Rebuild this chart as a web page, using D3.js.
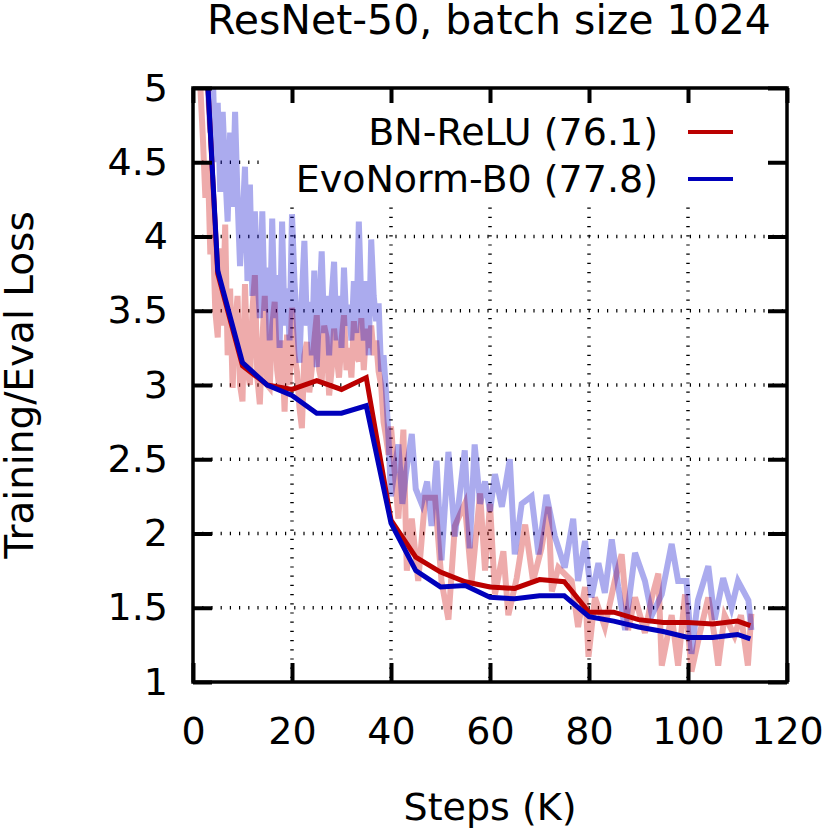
<!DOCTYPE html>
<html>
<head>
<meta charset="utf-8">
<script src="https://cdn.jsdelivr.net/npm/d3@7"></script>
<style>
  body { margin: 0; background: #fff; }
  svg { font-family: "DejaVu Sans", sans-serif; }
</style>
</head>
<body>
<svg width="830" height="830"></svg>
<script>
// eval loss, every 5K steps
var evalSteps = [0, 5, 10, 15, 20, 25, 30, 35, 40, 45, 50, 55, 60, 65, 70, 75, 80, 85, 90, 95, 100, 105, 110, 112.6];
var bnEval  = [6.91, 3.75, 3.13, 3.0, 2.97, 3.03, 2.97, 3.05, 2.09, 1.84, 1.74, 1.675, 1.64, 1.63, 1.69, 1.675, 1.47, 1.47, 1.42, 1.40, 1.40, 1.39, 1.41, 1.38];
var evoEval = [6.91, 3.77, 3.15, 3.0, 2.93, 2.81, 2.81, 2.86, 2.07, 1.75, 1.64, 1.65, 1.57, 1.56, 1.58, 1.58, 1.44, 1.41, 1.37, 1.34, 1.30, 1.30, 1.32, 1.29];

// training loss (noisy)
var bnTrainSteps = [0, 0.5, 1, 1.5, 2, 2.5, 3, 3.5, 4, 4.5, 5, 5.5, 6, 6.5, 7, 7.5, 8, 8.5, 9, 9.5,
  10, 10.5, 11, 11.5, 12, 12.5, 13, 13.5, 14, 14.5, 15, 15.5, 16, 16.5, 17, 17.5, 18, 18.5, 19, 19.5,
  20, 20.5, 21, 21.5, 22, 22.5, 23, 23.5, 24, 24.5, 25, 25.5, 26, 26.5, 27, 27.5, 28, 28.5, 29, 29.5,
  30, 30.5, 31, 31.5, 32, 32.5, 33, 33.5, 34, 34.5, 35, 35.5, 36, 36.5, 37, 37.5, 38, 38.5, 39, 39.5, 40,
  41.5, 42.5, 43.2, 44.2, 45.5, 46.9, 48.9, 50.2, 51.6, 52.9, 54.9, 56.3, 58.0, 59.0, 60.0,
  61.0, 62.7, 63.7, 65.4, 67.1, 68.7, 70.4, 71.8, 72.5, 73.8, 76.5, 77.8, 79.2, 79.9, 81.2, 83.2, 85.2, 86.6, 87.9, 89.3,
  91.3, 92.7, 94.0, 94.7, 96.7, 98.0, 99.4, 100.7, 102.4, 104.1, 105.4, 106.1, 107.4, 109.4, 110.7, 112.1, 112.8];
var bnTrain = [6.91, 6.0, 5.3, 5.0, 4.66, 4.26, 4.5, 3.88, 4.06, 3.5, 3.32, 3.92, 3.4, 4.08, 3.2, 3.65, 2.98, 3.4, 3.6, 3.0,
  2.89, 3.68, 3.1, 3.0, 3.5, 3.74, 3.05, 2.87, 3.3, 3.6, 3.0, 2.98, 3.4, 3.56, 3.1, 2.96, 3.3, 2.82, 3.34, 3.0,
  3.52, 3.2, 3.09, 2.85, 2.71, 3.2, 3.29, 2.95, 3.11, 3.3, 3.47, 3.1, 3.02, 3.4, 3.32, 2.93, 3.1, 3.38, 3.2, 3.05,
  3.3, 3.47, 3.1, 3.25, 3.05, 3.43, 3.2, 3.16, 3.45, 3.1, 3.38, 3.25, 3.4, 3.2, 3.3, 3.09, 3.0, 2.75, 2.65, 2.53, 2.72,
  2.1, 2.7, 1.75, 2.1, 1.68, 2.24, 2.24, 1.68, 1.42, 2.05, 2.2, 1.68, 2.27, 1.75, 2.2,
  1.59, 1.88, 1.45, 1.7, 2.06, 1.68, 1.9, 2.18, 1.61, 1.77, 1.68, 1.37, 1.64, 1.17, 1.57, 1.37, 1.68, 1.86, 1.35, 1.57,
  1.33, 1.57, 1.73, 1.11, 1.45, 1.11, 1.59, 1.07, 1.33, 1.57, 1.3, 1.11, 1.45, 1.31, 1.45, 1.11, 1.46];

var evoTrainSteps = [0, 0.5, 1, 1.5, 2, 2.5, 3, 3.5, 4, 4.5, 5, 5.5, 6, 6.5, 7, 7.5, 8, 8.5, 9, 9.5,
  10, 10.5, 11, 11.5, 12, 12.5, 13, 13.5, 14, 14.5, 15, 15.5, 16, 16.5, 17, 17.5, 18, 18.5, 19, 19.5,
  20, 20.5, 21, 21.5, 22, 22.5, 23, 23.5, 24, 24.5, 25, 25.5, 26, 26.5, 27, 27.5, 28, 28.5, 29, 29.5,
  30, 30.5, 31, 31.5, 32, 32.5, 33, 33.5, 34, 34.5, 35, 35.5, 36, 36.5, 37, 37.5, 38, 38.5, 39, 39.5, 40,
  40.8, 41.5, 42.3, 43.0, 44.2, 45.0, 46.2,
  47.3, 48.2, 49.2, 50.2, 51.6, 52.9, 54.9, 55.9, 56.9, 58.0, 59.0, 60.0, 61.0, 62.4, 64.0, 65.0, 66.4, 68.4, 69.8, 71.4,
  73.1, 75.1, 76.8, 77.8, 79.2, 80.5, 81.9, 83.2, 84.6, 85.9, 87.3, 89.3, 91.3, 92.7, 94.7, 96.7, 98.0, 99.7, 100.7, 102.0,
  104.1, 105.4, 107.1, 108.8, 110.1, 112.2, 112.8];
var evoTrain = [6.91, 6.7, 6.4, 6.0, 5.6, 5.3, 5.0, 4.7, 5.1, 4.5, 4.9, 4.3, 4.84, 4.44, 4.1, 4.7, 4.2, 4.84, 4.26, 3.8,
  4.1, 4.47, 3.7, 4.35, 3.6, 4.17, 3.75, 3.45, 4.17, 3.5, 3.79, 3.3, 4.12, 3.45, 3.74, 3.25, 4.1, 3.4, 3.65, 3.3,
  4.15, 3.7, 3.4, 3.15, 3.6, 3.97, 3.4, 3.56, 3.2, 3.77, 3.12, 3.5, 3.9, 3.35, 3.6, 3.2, 3.59, 3.83, 3.3, 3.6,
  3.25, 3.79, 3.4, 3.54, 3.3, 3.7, 3.35, 4.1, 3.56, 3.3, 3.7, 3.2, 3.98, 3.6, 3.43, 3.55, 3.09, 3.2, 2.95, 2.64, 2.25,
  2.45, 2.6, 2.2, 2.4, 2.67, 2.3, 2.2,
  2.35, 2.05, 2.49, 1.82, 2.55, 1.98, 2.56, 1.9, 2.6, 2.2, 2.35, 2.15, 2.4, 2.18, 2.5, 1.86, 2.2, 2.25, 1.86, 2.26,
  1.98, 1.77, 2.1, 1.68, 1.95, 1.57, 1.8, 1.6, 1.96, 1.64, 1.35, 1.87, 1.68, 1.45, 1.59, 1.93, 1.68, 1.68, 1.19, 1.55,
  1.78, 1.42, 1.7, 1.5, 1.68, 1.55, 1.35];

var xTicks = [0, 20, 40, 60, 80, 100, 120];
var yTicks = [1, 1.5, 2, 2.5, 3, 3.5, 4, 4.5, 5];
var seriesNames = ["BN-ReLU (76.1)", "EvoNorm-B0 (77.8)"];

var svg = d3.select("svg"),
    margin = {top: 88, right: 43, bottom: 148, left: 193},
    width = +svg.attr("width") - margin.left - margin.right,
    height = +svg.attr("height") - margin.top - margin.bottom;

var x = d3.scaleLinear().domain([0, 120]).range([0, width]),
    y = d3.scaleLinear().domain([1, 5]).range([height, 0]);

var g = svg.append("g")
    .attr("transform", "translate(" + margin.left + "," + margin.top + ")");

svg.append("defs").append("clipPath").attr("id", "plotclip")
  .append("rect").attr("width", width).attr("height", height);

// grid
g.selectAll(".hgrid")
    .data(yTicks.slice(1, -1))
  .enter().append("line")
    .attr("x1", 0).attr("x2", width)
    .attr("y1", function(d) { return y(d); })
    .attr("y2", function(d) { return y(d); })
    .attr("stroke", "#000").attr("stroke-width", 3.5)
    .attr("stroke-dasharray", "1.2,8");

g.selectAll(".vgrid")
    .data(xTicks.slice(1, -1))
  .enter().append("line")
    .attr("y1", 0).attr("y2", height)
    .attr("x1", function(d) { return x(d); })
    .attr("x2", function(d) { return x(d); })
    .attr("stroke", "#000").attr("stroke-width", 3.5)
    .attr("stroke-dasharray", "1.2,8");

// legend background
g.append("rect")
    .attr("x", 70).attr("y", 2)
    .attr("width", width - 72).attr("height", 115)
    .attr("fill", "#fff");

var line = d3.line()
    .x(function(d) { return x(d[0]); })
    .y(function(d) { return y(d[1]); });

var plot = g.append("g").attr("clip-path", "url(#plotclip)");

function addLine(steps, vals, color, opacity, w) {
  plot.append("path")
      .datum(d3.zip(steps, vals))
      .attr("fill", "none")
      .attr("stroke", color)
      .attr("stroke-opacity", opacity)
      .attr("stroke-width", w)
      .attr("stroke-linejoin", "miter")
      .attr("d", line);
}

addLine(bnTrainSteps, bnTrain, "#cc0000", 0.33, 6);
addLine(evoTrainSteps, evoTrain, "#0000cc", 0.33, 6);
addLine(evalSteps, bnEval, "#bb0000", 1, 5);
addLine(evalSteps, evoEval, "#0000bb", 1, 5);

// axes
var fmt = d3.format("");

g.append("g")
    .attr("transform", "translate(0," + height + ")")
    .call(d3.axisBottom(x).tickValues(xTicks).tickFormat(fmt).tickSizeInner(-19).tickSizeOuter(0).tickPadding(35))
    .call(function(a) { a.select(".domain").remove(); });

g.append("g")
    .call(d3.axisLeft(y).tickValues(yTicks).tickFormat(fmt).tickSizeInner(-19).tickSizeOuter(0).tickPadding(25))
    .call(function(a) { a.select(".domain").remove(); });

g.append("g")
    .call(d3.axisTop(x).tickValues(xTicks).tickSizeInner(-15).tickSizeOuter(0).tickFormat(""))
    .call(function(a) { a.select(".domain").remove(); });

g.append("g")
    .attr("transform", "translate(" + width + ",0)")
    .call(d3.axisRight(y).tickValues(yTicks).tickSizeInner(-19).tickSizeOuter(0).tickFormat(""))
    .call(function(a) { a.select(".domain").remove(); });

g.selectAll(".tick line").attr("stroke", "#000").attr("stroke-width", 4);
g.selectAll(".tick text").attr("font-size", "38px").attr("fill", "#000")
    .attr("font-family", "DejaVu Sans");

g.append("rect")
    .attr("width", width).attr("height", height)
    .attr("fill", "none").attr("stroke", "#000").attr("stroke-width", 3.5);

// legend
var legend = g.selectAll(".legend")
    .data(seriesNames)
  .enter().append("g")
    .attr("transform", function(d, i) { return "translate(0," + (44 + i * 47) + ")"; });

legend.append("text")
    .attr("x", 465).attr("dy", "0.35em")
    .attr("text-anchor", "end")
    .attr("font-size", "38px")
    .text(function(d) { return d; });

legend.append("line")
    .attr("x1", 495).attr("x2", 540)
    .attr("stroke", function(d, i) { return i ? "#0000bb" : "#bb0000"; })
    .attr("stroke-width", 4);

// titles
svg.append("text")
    .attr("x", 489).attr("y", 34)
    .attr("text-anchor", "middle")
    .attr("font-size", "41px")
    .text("ResNet-50, batch size 1024");

svg.append("text")
    .attr("x", 490).attr("y", 820)
    .attr("text-anchor", "middle")
    .attr("font-size", "38px")
    .text("Steps (K)");

svg.append("text")
    .attr("transform", "translate(33," + (margin.top + height / 2) + ") rotate(-90)")
    .attr("text-anchor", "middle")
    .attr("font-size", "39px")
    .text("Training/Eval Loss");
</script>
</body>
</html>
